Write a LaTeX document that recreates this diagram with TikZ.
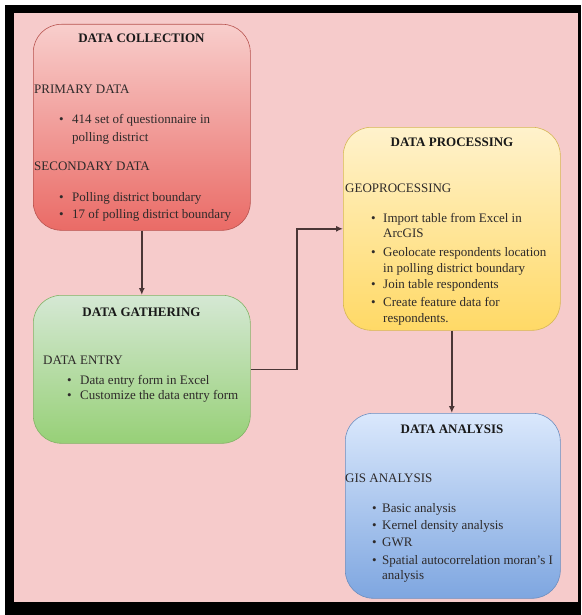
\documentclass[tikz,border=0pt]{standalone}
\usepackage{fontspec}
\setmainfont{Liberation Serif}
\usetikzlibrary{arrows.meta}
\definecolor{bgpink}{HTML}{F6CBCB}
\definecolor{txt}{HTML}{2E2A2A}
\definecolor{redtop}{HTML}{F8CECC}
\definecolor{redbot}{HTML}{EA6B66}
\definecolor{redline}{HTML}{B85450}
\definecolor{grntop}{HTML}{D5E8D4}
\definecolor{grnbot}{HTML}{97D077}
\definecolor{grnline}{HTML}{82B366}
\definecolor{yeltop}{HTML}{FFF2CC}
\definecolor{yelbot}{HTML}{FFD966}
\definecolor{yelline}{HTML}{D6B656}
\definecolor{blutop}{HTML}{DAE8FC}
\definecolor{blubot}{HTML}{7EA6E0}
\definecolor{bluline}{HTML}{6C8EBF}
\definecolor{connclr}{HTML}{4A3636}
\tikzset{
  box/.style={rounded corners=28pt, draw=#1, line width=0.6pt, anchor=north west, inner sep=0pt},
  ttl/.style={font=\fontsize{13}{15}\bfseries\selectfont, text=black!90, anchor=base, inner sep=0pt},
  hd/.style={font=\fontsize{13}{15}\selectfont, text=txt, anchor=base west, inner sep=0pt},
  ln/.style={font=\fontsize{13}{15}\selectfont, text=txt, anchor=base west, inner sep=0pt},
  bl/.style={font=\fontsize{13}{15}\selectfont, text=txt, anchor=base west, inner sep=0pt},
  conn/.style={draw=connclr, line width=1.5pt, -{Latex[length=7pt,width=6pt]}}
}
\begin{document}
\begin{tikzpicture}[x=1pt,y=-1pt]
\useasboundingbox (0,0) rectangle (581,615);
\fill[white] (0,0) rectangle (581,615);
\fill[black] (5,5) rectangle (581,615);
\fill[bgpink] (14,13) rectangle (578,602);

% boxes
\node[box=redline, top color=redtop, bottom color=redbot, minimum width=217pt, minimum height=206pt] (coll) at (33,24) {};
\node[box=grnline, top color=grntop, bottom color=grnbot, minimum width=217pt, minimum height=148pt] (gath) at (33,295) {};
\node[box=yelline, top color=yeltop, bottom color=yelbot, minimum width=217pt, minimum height=203pt] (proc) at (343,127) {};
\node[box=bluline, top color=blutop, bottom color=blubot, minimum width=215pt, minimum height=185pt] (ana) at (345,413) {};

% connectors
\coordinate (bend) at (297,0);
\draw[conn] (coll.south) -- (gath.north);
\draw[conn] (gath.east) -- (bend |- gath.east) |- (proc.west);
\draw[conn] (proc.south) -- (proc.south |- ana.north);

% DATA COLLECTION
\node[ttl] (c0) at (141.5,43) {DATA COLLECTION};
\node[hd] (c1) at (34,93.5) {PRIMARY DATA};
\node[bl] (c2b) at (59,123.5) {\textbullet};
\node[ln] (c2) at (72,123.5) {414 set of questionnaire in};
\node[ln] (c3) at (72,141.5) {polling district};
\node[hd] (c4) at (34,170.5) {SECONDARY DATA};
\node[bl] (c5b) at (59,201.5) {\textbullet};
\node[ln] (c5) at (72,201.5) {Polling district boundary};
\node[bl] (c6b) at (59,218.5) {\textbullet};
\node[ln] (c6) at (72,218.5) {17 of polling district boundary};

% DATA GATHERING
\node[ttl] (g0) at (141.5,316.5) {DATA GATHERING};
\node[hd] (g1) at (43,364.5) {DATA ENTRY};
\node[bl] (g2b) at (67,384.5) {\textbullet};
\node[ln] (g2) at (80,384.5) {Data entry form in Excel};
\node[bl] (g3b) at (67,399.5) {\textbullet};
\node[ln] (g3) at (80,399.5) {Customize the data entry form};

% DATA PROCESSING
\node[ttl] (p0) at (452,146.5) {DATA PROCESSING};
\node[hd] (p1) at (345,192.5) {GEOPROCESSING};
\node[bl] (p2b) at (371,222.5) {\textbullet};
\node[ln] (p2) at (383,222.5) {Import table from Excel in};
\node[ln] (p3) at (383,237.5) {ArcGIS};
\node[bl] (p4b) at (371,256.5) {\textbullet};
\node[ln] (p4) at (383,256.5) {Geolocate respondents location};
\node[ln] (p5) at (383,272.5) {in polling district boundary};
\node[bl] (p6b) at (371,288.5) {\textbullet};
\node[ln] (p6) at (383,288.5) {Join table respondents};
\node[bl] (p7b) at (371,306.5) {\textbullet};
\node[ln] (p7) at (383,306.5) {Create feature data for};
\node[ln] (p8) at (383,322.5) {respondents.};

% DATA ANALYSIS
\node[ttl] (a0) at (452,433.5) {DATA ANALYSIS};
\node[hd] (a1) at (345,482.5) {GIS ANALYSIS};
\node[bl] (a2b) at (372,512.5) {\textbullet};
\node[ln] (a2) at (382,512.5) {Basic analysis};
\node[bl] (a3b) at (372,529.5) {\textbullet};
\node[ln] (a3) at (382,529.5) {Kernel density analysis};
\node[bl] (a4b) at (372,546.5) {\textbullet};
\node[ln] (a4) at (382,546.5) {GWR};
\node[bl] (a5b) at (372,564.5) {\textbullet};
\node[ln] (a5) at (382,564.5) {Spatial autocorrelation moran's I};
\node[ln] (a6) at (382,579.5) {analysis};
\end{tikzpicture}
\end{document}
